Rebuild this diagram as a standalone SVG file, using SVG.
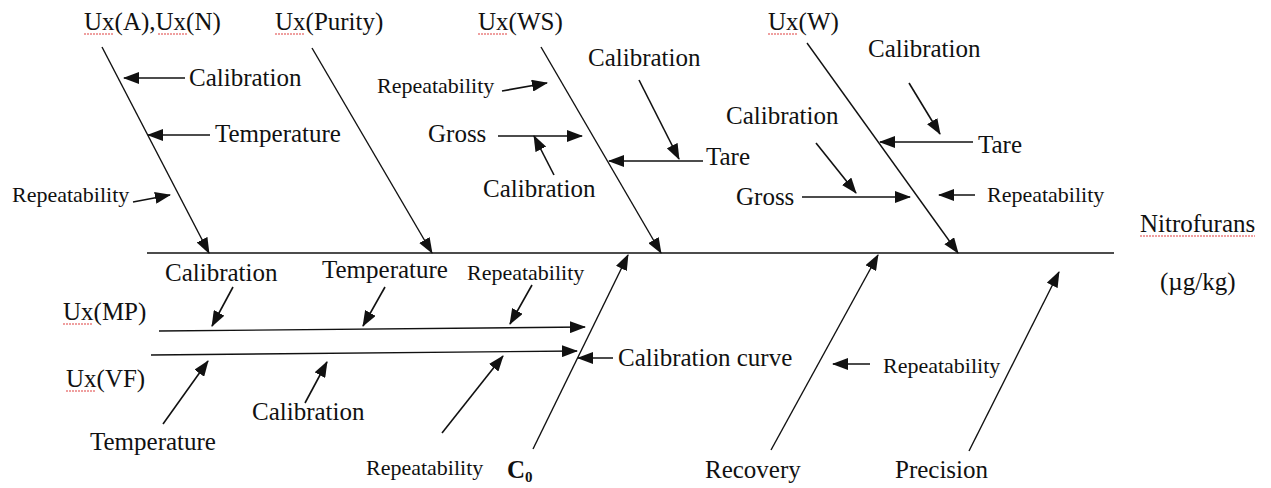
<svg xmlns="http://www.w3.org/2000/svg" width="1271" height="488" viewBox="0 0 1271 488">
<style>
text{font-family:"Liberation Serif","Times New Roman",serif;fill:#111;}
.t{font-size:25px;}
.s{font-size:22px;}
.c{stroke:#111;stroke-width:1.4;fill:none;}
.a{stroke:#111;stroke-width:1.6;fill:none;marker-end:url(#ah);}
.b{stroke:#111;stroke-width:1.4;fill:none;marker-end:url(#ah);}
.u{stroke:#e04040;stroke-width:1.2;stroke-dasharray:2 1;fill:none;}
</style>
<defs>
<marker id="ah" viewBox="0 0 16 12" refX="15" refY="6" markerWidth="16" markerHeight="12" markerUnits="userSpaceOnUse" orient="auto">
<path d="M0,0 L16,6 L0,12 z" fill="#111"/>
</marker>
</defs>
<rect width="1271" height="488" fill="#fff"/>
<g id="connectors">
<line class="c" x1="147" y1="253" x2="1114" y2="253"/>
<line class="b" x1="102" y1="47" x2="209" y2="253"/>
<line class="b" x1="312" y1="48" x2="432" y2="253"/>
<line class="b" x1="541" y1="47" x2="661" y2="253"/>
<line class="b" x1="807" y1="43" x2="958" y2="253"/>
<line class="a" x1="185" y1="78" x2="124" y2="78"/>
<line class="a" x1="210" y1="135" x2="148" y2="135"/>
<line class="a" x1="133" y1="202" x2="170" y2="195"/>
<line class="a" x1="502" y1="91" x2="547" y2="83"/>
<line class="a" x1="498" y1="136" x2="582" y2="136"/>
<line class="a" x1="554" y1="175" x2="534" y2="136"/>
<line class="a" x1="639" y1="80" x2="679" y2="159"/>
<line class="a" x1="703" y1="161" x2="609" y2="161"/>
<line class="a" x1="909" y1="83" x2="940" y2="134"/>
<line class="a" x1="973" y1="142" x2="880" y2="142"/>
<line class="a" x1="816" y1="143" x2="856" y2="193"/>
<line class="a" x1="802" y1="197" x2="910" y2="197"/>
<line class="a" x1="975" y1="195" x2="939" y2="195"/>
<line class="a" x1="233" y1="287" x2="212" y2="326"/>
<line class="a" x1="385" y1="287" x2="363" y2="326"/>
<line class="a" x1="532" y1="285" x2="510" y2="324"/>
<line class="b" x1="159" y1="331" x2="585" y2="327"/>
<line class="b" x1="151" y1="355" x2="577" y2="351"/>
<line class="a" x1="163" y1="424" x2="208" y2="361"/>
<line class="a" x1="305" y1="403" x2="327" y2="362"/>
<line class="a" x1="442" y1="433" x2="503" y2="356"/>
<line class="b" x1="533" y1="449" x2="628" y2="255"/>
<line class="a" x1="613" y1="358" x2="578" y2="358"/>
<line class="b" x1="771" y1="450" x2="878" y2="255"/>
<line class="a" x1="870" y1="364" x2="833" y2="364"/>
<line class="b" x1="969" y1="451" x2="1059" y2="272"/>
</g>
<g id="ux-a-n"><text class="t" x="84" y="30">Ux(A),Ux(N)</text><path class="u" d="M84,34 h30 M158,34 h30"/></g>
<g id="ux-purity"><text class="t" x="275" y="30">Ux(Purity)</text><path class="u" d="M275,34 h30"/></g>
<g id="ux-ws"><text class="t" x="478" y="30">Ux(WS)</text><path class="u" d="M478,34 h30"/></g>
<g id="ux-w"><text class="t" x="768" y="30">Ux(W)</text><path class="u" d="M768,34 h30"/></g>
<g id="an-calibration"><text class="t" x="189" y="86">Calibration</text></g>
<g id="an-temperature"><text class="t" x="215" y="142">Temperature</text></g>
<g id="an-repeatability"><text class="s" x="12" y="202">Repeatability</text></g>
<g id="ws-repeatability"><text class="s" x="377" y="93">Repeatability</text></g>
<g id="ws-gross"><text class="t" x="428" y="142">Gross</text></g>
<g id="ws-gross-calibration"><text class="t" x="483" y="197">Calibration</text></g>
<g id="ws-tare-calibration"><text class="t" x="588" y="66">Calibration</text></g>
<g id="ws-tare"><text class="t" x="706" y="165">Tare</text></g>
<g id="w-tare-calibration"><text class="t" x="868" y="57">Calibration</text></g>
<g id="w-tare"><text class="t" x="978" y="153">Tare</text></g>
<g id="w-gross-calibration"><text class="t" x="726" y="124">Calibration</text></g>
<g id="w-gross"><text class="t" x="736" y="205">Gross</text></g>
<g id="w-repeatability"><text class="s" x="987" y="202">Repeatability</text></g>
<g id="effect"><text class="t" x="1140" y="232">Nitrofurans</text><path class="u" d="M1140,236 h115"/><text class="t" x="1160" y="290">(µg/kg)</text></g>
<g id="mp-calibration"><text class="t" x="165" y="281">Calibration</text></g>
<g id="mp-temperature"><text class="t" x="322" y="278">Temperature</text></g>
<g id="mp-repeatability"><text class="s" x="467" y="280">Repeatability</text></g>
<g id="ux-mp"><text class="t" x="63" y="320">Ux(MP)</text><path class="u" d="M63,324 h30"/></g>
<g id="ux-vf"><text class="t" x="66" y="387">Ux(VF)</text><path class="u" d="M66,391 h30"/></g>
<g id="vf-temperature"><text class="t" x="90" y="450">Temperature</text></g>
<g id="vf-calibration"><text class="t" x="252" y="420">Calibration</text></g>
<g id="vf-repeatability"><text class="s" x="366" y="475">Repeatability</text></g>
<g id="c0"><text class="t" x="507" y="478" font-weight="bold">C<tspan font-size="15" dy="4">0</tspan></text></g>
<g id="calibration-curve"><text class="t" x="618" y="366">Calibration curve</text></g>
<g id="recovery"><text class="t" x="705" y="478">Recovery</text></g>
<g id="recovery-repeatability"><text class="s" x="883" y="373">Repeatability</text></g>
<g id="precision"><text class="t" x="895" y="478">Precision</text></g>
</svg>
